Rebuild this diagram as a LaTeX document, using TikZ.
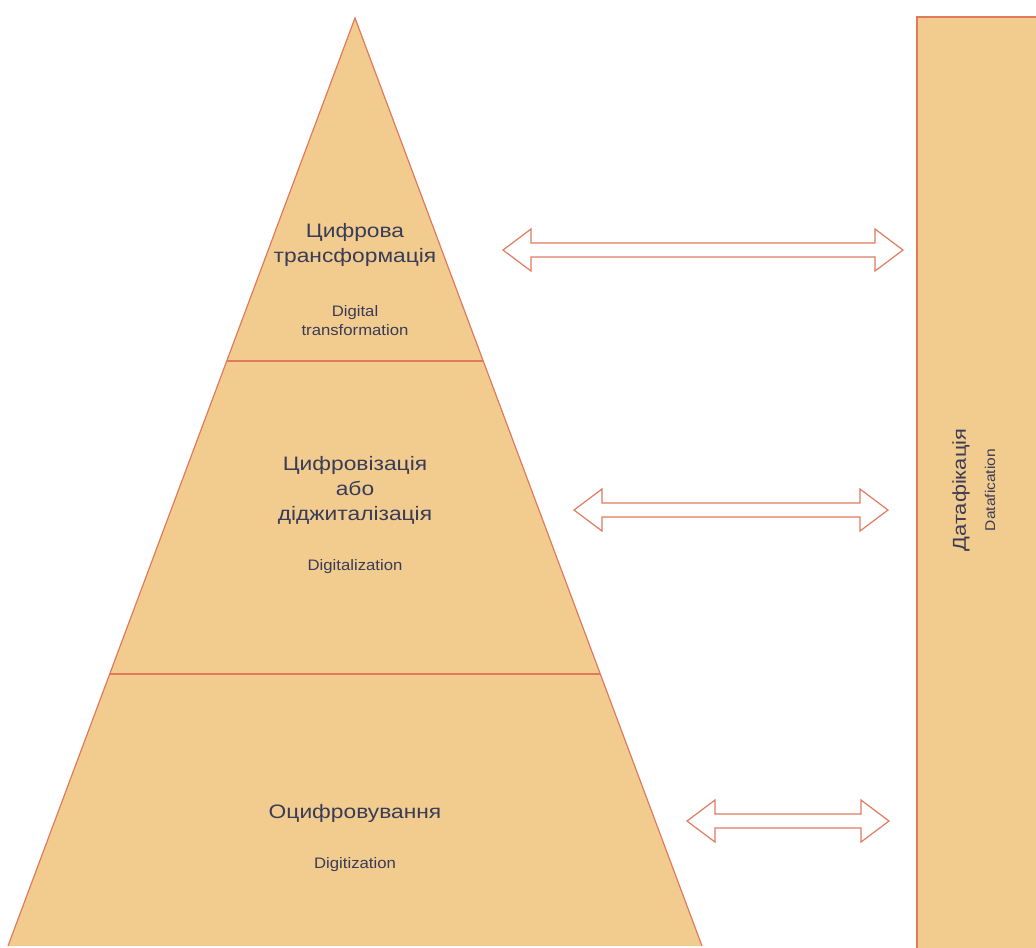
\documentclass[tikz,border=0pt]{standalone}
\usepackage{fontspec}
\setmainfont{Liberation Sans}
\newfontfamily\uafont[FakeStretch=1.17]{Liberation Sans}
\newfontfamily\enfont[FakeStretch=1.1]{Liberation Sans}
\usepackage{xcolor}
\usepackage{tikz}
\definecolor{sand}{HTML}{F2CC8F}
\definecolor{coral}{HTML}{E07A5F}
\definecolor{ink}{HTML}{393C56}

% block arrow with two heads: left x, right x, mid y
\newcommand{\dblarrow}[3]{%
  \draw[blockarrow] (#1,#3) -- ({#1+28},{#3-21}) -- ({#1+28},{#3-7}) -- ({#2-28},{#3-7})
    -- ({#2-28},{#3-21}) -- (#2,#3) -- ({#2-28},{#3+21}) -- ({#2-28},{#3+7})
    -- ({#1+28},{#3+7}) -- ({#1+28},{#3+21}) -- cycle;}

\begin{document}
\begin{tikzpicture}[
  x=0.75pt, y=-0.75pt,
  layer/.style={draw=coral, line width=0.9pt},
  blockarrow/.style={draw=coral, fill=white, line width=0.9pt, line join=miter},
  uatext/.style={text=ink, align=center, font=\uafont\fontsize{14.6}{18.75}\selectfont},
  entext/.style={text=ink, align=center, font=\enfont\fontsize{11.4}{14.25}\selectfont}
]
  \useasboundingbox (0,0) rectangle (1036,947);

  % pyramid
  \fill[sand] (355,18) -- (702,946) -- (8,946) -- cycle;
  \draw[layer] (8,946) -- (355,18) -- (702,946);
  \draw[layer] (227,361) -- (483,361);
  \draw[layer] (110,674) -- (600,674);

  % datafication column
  \filldraw[fill=sand, draw=coral, line width=0.9pt] (917,17) rectangle (1045,955);

  \node[uatext] (transua) at (355,245) {Цифрова\\трансформація};
  \node[entext] (transen) at (355,321) {Digital\\transformation};
  \node[uatext] (digalua) at (355,490) {Цифровізація\\або\\діджиталізація};
  \node[entext] (digalen) at (355,567) {Digitalization};
  \node[uatext] (digitua) at (355,813) {Оцифровування};
  \node[entext] (digiten) at (355,865) {Digitization};
  \node[uatext, font=\uafont\fontsize{14}{18}\selectfont, rotate=90] (dataua) at (961,490) {Датафікація};
  \node[entext, font=\enfont\fontsize{10.6}{13}\selectfont, rotate=90] (dataen) at (990,490) {Datafication};

  % arrows between layers and column
  \dblarrow{503}{903}{250}
  \dblarrow{574}{888}{510}
  \dblarrow{687}{889}{821}
\end{tikzpicture}
\end{document}
